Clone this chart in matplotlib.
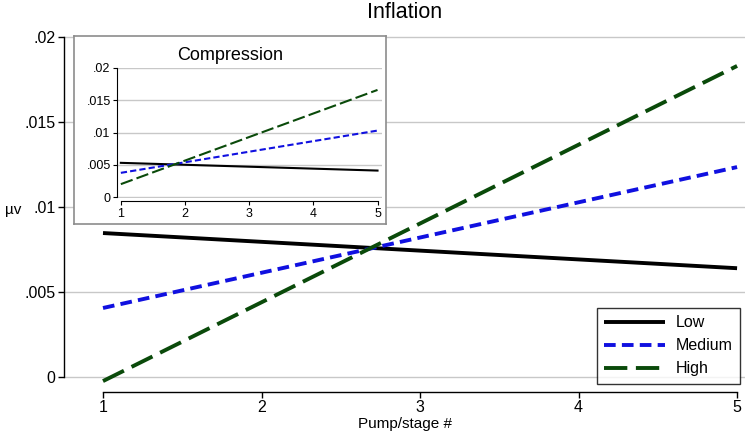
import matplotlib.pyplot as plt

plt.rcParams['font.family'] = ['Liberation Sans', 'DejaVu Sans']

# Data
stages = [1, 5]
main_low = [0.00847, 0.0064]
main_medium = [0.00406, 0.01235]
main_high = [-0.00024, 0.0183]

inset_low = [0.0053, 0.0041]
inset_medium = [0.00375, 0.0103]
inset_high = [0.0020, 0.0166]

yticks = [0, 0.005, 0.01, 0.015, 0.02]
ytick_labels = ['0', '.005', '.01', '.015', '.02']
xticks = [1, 2, 3, 4, 5]

W, H = 748, 433
fig = plt.figure(figsize=(W / 100, H / 100), dpi=100)

def px_axes(l, t, r, b):
    return fig.add_axes([l / W, 1 - b / H, (r - l) / W, (b - t) / H])

def style(ax, lw_axis=1.0):
    for s in ['top', 'right']:
        ax.spines[s].set_visible(False)
    ax.spines['left'].set_bounds(0, 0.02)
    ax.spines['bottom'].set_bounds(1, 5)
    ax.spines['bottom'].set_position(('outward', 5))
    ax.spines['left'].set_linewidth(lw_axis)
    ax.spines['bottom'].set_linewidth(lw_axis)
    ax.set_yticks(yticks)
    ax.set_yticklabels(ytick_labels)
    ax.set_xticks(xticks)
    ax.yaxis.grid(True, color='#c8c8c8', linewidth=1.0)
    ax.set_axisbelow(True)

# Main axes
ax = px_axes(64, 35, 745, 385)
ax.plot(stages, main_low, color='black', linewidth=2.8, label='Low', solid_capstyle='butt')
ax.plot(stages, main_medium, color='#1010e0', linewidth=2.8, dashes=(3, 1.6), label='Medium')
ax.plot(stages, main_high, color='#0a4a0a', linewidth=2.8, dashes=(6, 2.2), label='High')
ax.set_xlim(0.754, 5.05)
ax.set_ylim(-0.00047, 0.02012)
style(ax)
ax.tick_params(labelsize=11.5, length=4, width=1, pad=2)
ax.set_title('Inflation', fontsize=15.5, pad=12)
ax.set_xlabel('Pump/stage #', fontsize=11, labelpad=1)
ax.set_ylabel('\u00b5v', fontsize=11, rotation=0, labelpad=8, va='center')
leg = ax.legend(loc='lower right', bbox_to_anchor=(0.997, -0.005), fontsize=11.5,
                frameon=True, fancybox=False, edgecolor='black', handlelength=3.8,
                borderpad=0.45, labelspacing=0.5, handletextpad=0.7, borderaxespad=0.2)
leg.get_frame().set_linewidth(1.0)
leg.set_zorder(5)

# Inset panel (white box with grey border)
box = px_axes(74, 36, 386, 224)
box.set_xticks([])
box.set_yticks([])
for s in box.spines.values():
    s.set_color('#8c8c8c')
    s.set_linewidth(1.2)
box.set_facecolor('white')
box.set_zorder(3)
box.text(0.5, 0.94, 'Compression', transform=box.transAxes, ha='center', va='top', fontsize=13)

ins = px_axes(117, 68, 382, 198)
ins.set_zorder(4)
ins.patch.set_alpha(0)
ins.plot(stages, inset_low, color='black', linewidth=1.5)
ins.plot(stages, inset_medium, color='#1010e0', linewidth=1.5, dashes=(3, 1.5))
ins.plot(stages, inset_high, color='#0a4a0a', linewidth=1.5, dashes=(6, 2))
ins.set_xlim(0.94, 5.07)
ins.set_ylim(-0.00015, 0.02)
style(ins, lw_axis=0.8)
ins.spines['bottom'].set_position(('outward', 2.5))
ins.tick_params(labelsize=9, length=3, width=0.8, pad=1.5)

fig.savefig('out.png', dpi=100)
